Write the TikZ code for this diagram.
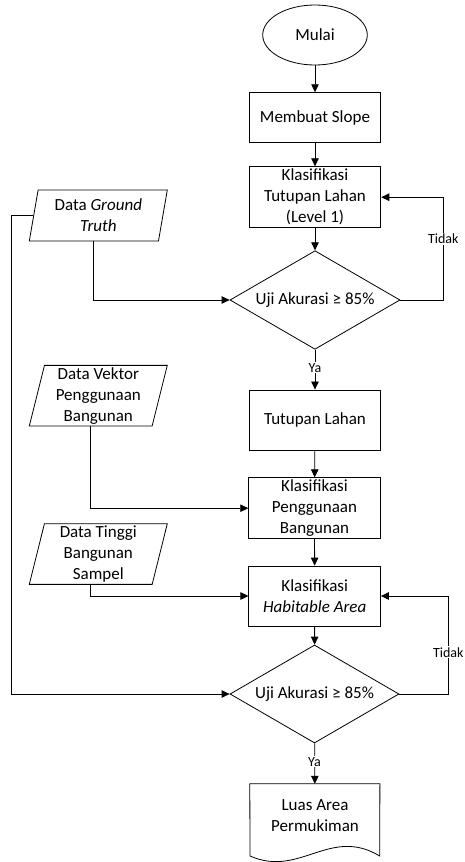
\documentclass[tikz,border=0pt]{standalone}
\usepackage{fontspec}
\setmainfont{Carlito}
\usetikzlibrary{shapes.geometric,arrows.meta}
\begin{document}
\begin{tikzpicture}[x=1pt,y=-1pt,
  every node/.style={font=\fontsize{17}{21}\selectfont, align=center, inner sep=0pt},
  base/.style={draw=black, line width=0.8pt},
  proc/.style={base, rectangle, minimum width=131.7pt},
  term/.style={base, ellipse, minimum width=104.6pt, minimum height=60pt},
  dec/.style={base, diamond, aspect=1.72, minimum width=170pt, minimum height=98.6pt},
  datain/.style={base, trapezium, trapezium left angle=75, trapezium right angle=105,
     trapezium stretches body, minimum width=138pt},
  lbl/.style={font=\fontsize{14}{16}\selectfont, fill=white, inner sep=1pt},
  arr/.style={line width=0.8pt, -{Triangle[length=8pt,width=7.5pt]}},
  ln/.style={line width=0.8pt}
]
\useasboundingbox (0,0) rectangle (464,862);

\node[term] (mulai) at (315,35) {Mulai};
\node[proc, minimum height=49.7pt] (slope) at (315,117.5) {Membuat Slope};
\node[proc, minimum height=61pt] (k1) at (315,197.2) {Klasifikasi\\Tutupan Lahan\\(Level 1)};
\node[dec] (d1) at (315,300) {Uji Akurasi ≥ 85\%};
\node[proc, minimum height=60.7pt] (tl) at (315,420.3) {Tutupan Lahan};
\node[proc, minimum height=61pt] (kp) at (314.5,508.2) {Klasifikasi\\Penggunaan\\Bangunan};
\node[proc, minimum height=60pt] (kh) at (314.7,596) {Klasifikasi\\\textit{Habitable Area}};
\node[dec, minimum width=169pt, minimum height=98pt] (d2) at (314.5,694) {Uji Akurasi ≥ 85\%};
\node[minimum width=129.7pt, minimum height=72pt] (doc) at (314.85,820) {};
\node at (315,815.5) {Luas Area\\Permukiman};
\draw[base] (doc.north west) -- (doc.north east) -- (379.7,856)
   .. controls (330,826) and (300,878) .. (250,856) -- cycle;

\node[datain, minimum height=51pt] (gt) at (98.3,215.5) {Data \textit{Ground}\\\textit{Truth}};
\node[datain, minimum height=60.7pt] (vk) at (98.3,395.7) {Data Vektor\\Penggunaan\\Bangunan};
\node[datain, minimum height=60.7pt] (tg) at (98.3,554) {Data Tinggi\\Bangunan\\Sampel};

\coordinate (loopA) at (443.3,0);
\coordinate (loopB) at (448.3,0);
\coordinate (leftL) at (11.7,0);

\draw[arr] (mulai) -- (slope);
\draw[arr] (slope) -- (k1);
\draw[arr] (k1) -- (d1);
\draw[arr] (d1) -- (tl);
\draw[arr] (tl) -- (kp);
\draw[arr] (kp) -- (kh);
\draw[arr] (kh) -- (d2);
\draw[arr] (d2) -- (doc.north);

\draw[arr] (d1.east) -- (d1.east -| loopA) |- (k1.east);
\draw[arr] (d2.east) -- (d2.east -| loopB) |- (kh.east);
\draw[arr] (gt.bottom side) |- (d1.west);
\draw[arr] (gt.left side) -- (gt.left side -| leftL) |- (d2.west);
\draw[arr] (vk.bottom side) |- (kp.west);
\draw[arr] (tg.bottom side) |- (kh.west);

\node[lbl] (t1) at (443.3,239) {Tidak};
\node[lbl] (t2) at (448.3,652.3) {Tidak};
\node[lbl] (y1) at (315,367.7) {Ya};
\node[lbl] (y2) at (314.5,761.7) {Ya};
\end{tikzpicture}
\end{document}
